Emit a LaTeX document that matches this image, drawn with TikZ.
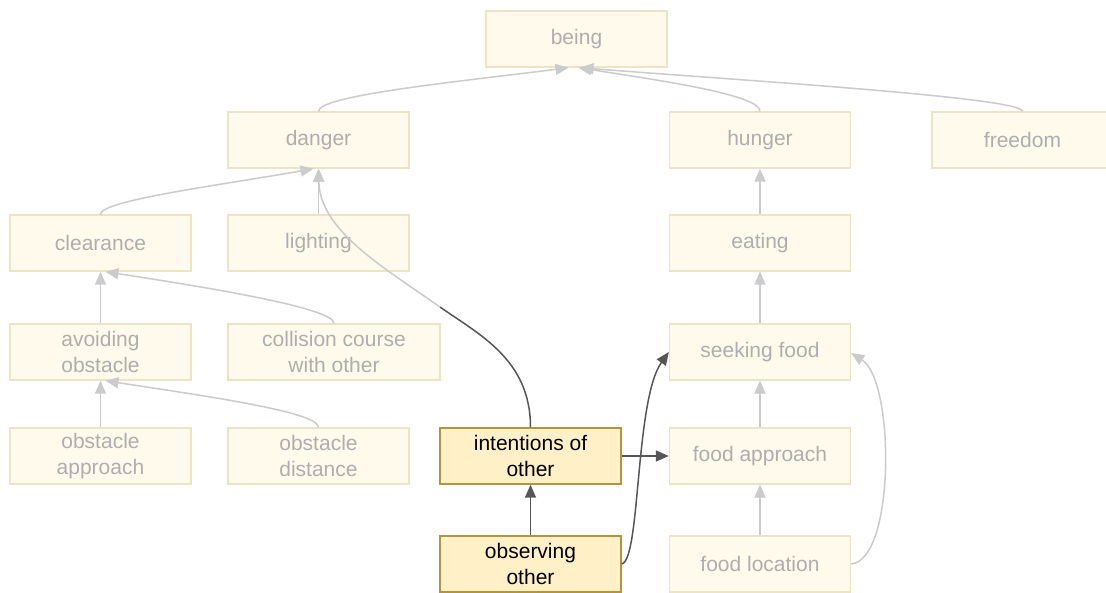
\documentclass[tikz,border=0pt]{standalone}
\usepackage{fontspec}
\setmainfont{Liberation Sans}
\usetikzlibrary{arrows.meta}
\definecolor{dimfill}{HTML}{FFFAEC}
\definecolor{dimline}{HTML}{EEE3C4}
\definecolor{dimtext}{HTML}{AEAEAE}
\definecolor{dimedge}{HTML}{CBCBCB}
\definecolor{hotfill}{HTML}{FFF0C8}
\definecolor{hotline}{HTML}{B4953F}
\definecolor{hotedge}{HTML}{565656}
\tikzset{
  box/.style={rectangle, minimum width=181pt, minimum height=56pt, inner sep=0pt,
    align=center, font=\fontsize{21}{26}\selectfont, line width=1.4pt},
  dimbox/.style={box, draw=dimline, fill=dimfill, text=dimtext},
  hotbox/.style={box, draw=hotline, fill=hotfill, text=black},
  tip/.style={-{Triangle[length=13pt,width=11pt]}},
  dimedge/.style={draw=dimedge, line width=1.5pt, tip},
  dimline/.style={draw=dimedge, line width=1.5pt},
  hotedge/.style={draw=hotedge, line width=1.5pt, tip},
  hotline/.style={draw=hotedge, line width=1.5pt},
}
\begin{document}
\begin{tikzpicture}[x=1pt, y=-1pt]
\useasboundingbox (0,0) rectangle (1106,592);
\fill[white] (0,0) rectangle (1106,592);

% nodes
\node[dimbox] (being)    at (576.5,39)  {being};
\node[dimbox] (danger)   at (318.5,140) {danger};
\node[dimbox] (hunger)   at (760,140)   {hunger};
\node[dimbox] (freedom)  at (1022.5,140) {freedom};
\node[dimbox] (clear)    at (100.5,243) {clearance};
\node[dimbox] (light)    at (318.5,243) {lighting};
\node[dimbox] (eat)      at (760,243)   {eating};
\node[dimbox] (avoid)    at (100.5,352) {avoiding\\obstacle};
\node[dimbox, minimum width=212pt] (collide) at (334,352) {collision course\\with other};
\node[dimbox] (seek)     at (760,352)   {seeking food};
\node[dimbox] (obsapp)   at (100.5,456) {obstacle\\approach};
\node[dimbox] (obsdist)  at (318.5,456) {obstacle\\distance};
\node[hotbox] (intent)   at (530.5,456) {intentions of\\other};
\node[dimbox] (foodapp)  at (760,456)   {food approach};
\node[hotbox] (observe)  at (530.5,564) {observing\\other};
\node[dimbox] (foodloc)  at (760,564)   {food location};

% edges into "being"
\draw[dimedge] (danger.north) .. controls +(0,-16) and +(-110,14) .. ([xshift=-8pt]being.south);
\draw[dimedge] (hunger.north) .. controls +(0,-16) and +(90,14) .. ([xshift=2pt]being.south);
\draw[dimedge] (freedom.north) .. controls +(0,-14) and +(150,12) .. ([xshift=4pt]being.south);

% edges into "danger"
\draw[dimedge] (clear.north) .. controls +(0,-14) and +(-90,16) .. ([xshift=-5pt]danger.south);
\draw[dimedge] (light.north) -- (danger.south);
\coordinate (fadept) at (440,307);
\draw[hotline] (intent.north) .. controls (530.5,360) and (480,335) .. (fadept);
\draw[dimedge] (fadept) .. controls (380,265) and (320,230) .. (danger.south);

% hunger branch
\draw[dimedge] (eat.north) -- (hunger.south);
\draw[dimedge] (seek.north) -- (eat.south);
\draw[dimedge] (foodapp.north) -- (seek.south);
\draw[dimedge] (foodloc.north) -- (foodapp.south);
\draw[dimedge] (foodloc.east) .. controls +(44,-4) and +(44,28) .. ([yshift=-1pt]seek.east);

% clearance branch
\draw[dimedge] (avoid.north) -- (clear.south);
\draw[dimedge] (collide.north) .. controls +(0,-16) and +(90,14) .. ([xshift=5pt]clear.south);
\draw[dimedge] (obsapp.north) -- (avoid.south);
\draw[dimedge] (obsdist.north) .. controls +(0,-16) and +(90,14) .. ([xshift=5pt]avoid.south);

% edges out of the highlighted nodes
\draw[hotedge] (intent.east) -- (foodapp.west);
\draw[hotedge] (observe.north) -- (intent.south);
\draw[hotedge] (observe.east) .. controls +(19,-4) and +(-34,48) .. (seek.west);
\end{tikzpicture}
\end{document}
